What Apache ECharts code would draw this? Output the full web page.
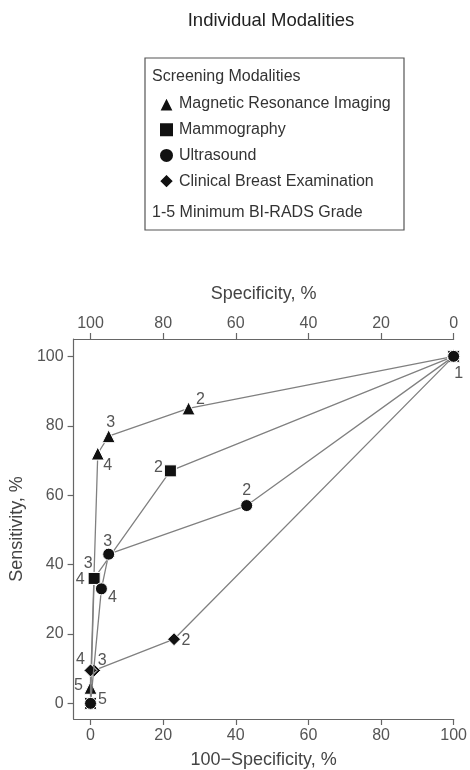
<!DOCTYPE html>
<html>
<head>
<meta charset="utf-8">
<style>
  html, body { margin: 0; padding: 0; background: #fff; }
  #chart { width: 470px; height: 770px; }
</style>
<script src="https://cdn.jsdelivr.net/npm/echarts@6/dist/echarts.min.js"></script>
</head>
<body>
<div id="chart"></div>
<script>
// Minimum BI-RADS grade for each operating point (1 = most lenient threshold)
const grades = [1, 2, 3, 4, 5];

// 100 - specificity (%) and sensitivity (%) per modality, ordered by grade
const mriX = [100, 27, 5, 2, 0];
const mriY = [100, 85, 77, 72, 4.5];
const mammoX = [100, 22, 1, 1, 0];
const mammoY = [100, 67, 36, 36, 0];
const usX = [100, 43, 5, 3, 0];
const usY = [100, 57, 43, 33, 0];
const cbeX = [100, 23, 1, 0, 0];
const cbeY = [100, 18.5, 9.5, 9.5, 0];

const seriesNames = ['Magnetic Resonance Imaging', 'Mammography', 'Ultrasound', 'Clinical Breast Examination'];
const axisTicks = [0, 20, 40, 60, 80, 100];

// Where each grade label sits relative to its marker (pixel offsets; null = no label)
const labelOffsets = {
  'Magnetic Resonance Imaging': [null, [12, -9], [2, -14], [10, 12], [-12, -2]],
  'Mammography': [null, [-12, -3], [-6, -15], [-14, 1], null],
  'Ultrasound': [[5, 17], [0, -15], [-1, -13], [11, 9], [12, -4]],
  'Clinical Breast Examination': [null, [12, 1], [8, -10], [-10, -11], null]
};
const symbols = ['triangle', 'rect', 'circle', 'diamond'];
const symbolSizes = [13, 12, 12, 13];
const layerOrder = [3, 4, 6, 5];

const FONT = 'Liberation Sans, Arial, sans-serif';
const GREY = '#555';

function buildSeries(name, xs, ys, idx) {
  const offs = labelOffsets[name];
  const data = xs.map((x, i) => {
    const off = offs[i];
    return {
      value: [x, ys[i]],
      label: off ? { show: true, position: 'inside', offset: off, formatter: String(grades[i]) }
                 : { show: false }
    };
  });
  return {
    name: name,
    type: 'line',
    data: data,
    symbol: symbols[idx],
    symbolSize: symbolSizes[idx],
    showAllSymbol: true,
    lineStyle: { color: '#808080', width: 1.3 },
    itemStyle: { color: '#111', borderColor: '#fff', borderWidth: 1 },
    label: { color: GREY, fontSize: 16, fontFamily: FONT },
    emphasis: { disabled: true },
    animation: false,
    z: layerOrder[idx]
  };
}

const axisCommon = {
  type: 'value',
  splitLine: { show: false },
  axisLine: { show: true, onZero: false, lineStyle: { color: '#666', width: 1.2 } },
  axisTick: { show: true, length: 6, customValues: axisTicks, lineStyle: { color: '#666', width: 1.2 } },
  axisLabel: { customValues: axisTicks, color: GREY, fontSize: 16, fontFamily: FONT },
  nameLocation: 'middle',
  nameTextStyle: { color: '#444', fontSize: 18, fontFamily: FONT }
};

const chart = echarts.init(document.getElementById('chart'), null, { renderer: 'canvas' });
chart.setOption({
  backgroundColor: '#fff',
  animation: false,
  grid: { left: 72, right: 16, top: 339, bottom: 51 },
  xAxis: [
    Object.assign({}, axisCommon, {
      position: 'bottom', min: -4.66, max: 100,
      name: '100\u2212Specificity, %', nameGap: 32,
      axisLabel: Object.assign({}, axisCommon.axisLabel, { margin: 9 })
    }),
    Object.assign({}, axisCommon, {
      position: 'top', inverse: true, min: 0, max: 104.66,
      name: 'Specificity, %', nameGap: 36,
      axisLabel: Object.assign({}, axisCommon.axisLabel, { margin: 7 })
    })
  ],
  yAxis: Object.assign({}, axisCommon, {
    min: -4.5, max: 105,
    name: 'Sensitivity, %', nameGap: 45,
    axisLabel: Object.assign({}, axisCommon.axisLabel, { margin: 10 })
  }),
  legend: {
    orient: 'vertical',
    left: 158, top: 95.5,
    padding: 0,
    itemWidth: 15, itemHeight: 15, itemGap: 8.7,
    selectedMode: false,
    textStyle: { color: '#333', fontSize: 16, lineHeight: 15, fontFamily: FONT },
    data: seriesNames.map((n, i) => ({ name: n, icon: symbols[i] }))
  },
  graphic: [
    { type: 'text', x: 271, y: 21, style: { text: 'Individual Modalities', fill: '#222', font: '18.5px ' + FONT, textAlign: 'center', textVerticalAlign: 'middle' } },
    { type: 'rect', shape: { x: 145, y: 58, width: 259, height: 172 }, style: { fill: 'none', stroke: '#555', lineWidth: 1.2 } },
    { type: 'text', x: 152, y: 77, style: { text: 'Screening Modalities', fill: '#333', font: '16px ' + FONT, textVerticalAlign: 'middle' } },
    { type: 'text', x: 152, y: 213, style: { text: '1-5 Minimum BI-RADS Grade', fill: '#333', font: '16px ' + FONT, textVerticalAlign: 'middle' } }
  ],
  series: [
    buildSeries(seriesNames[0], mriX, mriY, 0),
    buildSeries(seriesNames[1], mammoX, mammoY, 1),
    buildSeries(seriesNames[2], usX, usY, 2),
    buildSeries(seriesNames[3], cbeX, cbeY, 3)
  ]
});
</script>
</body>
</html>
